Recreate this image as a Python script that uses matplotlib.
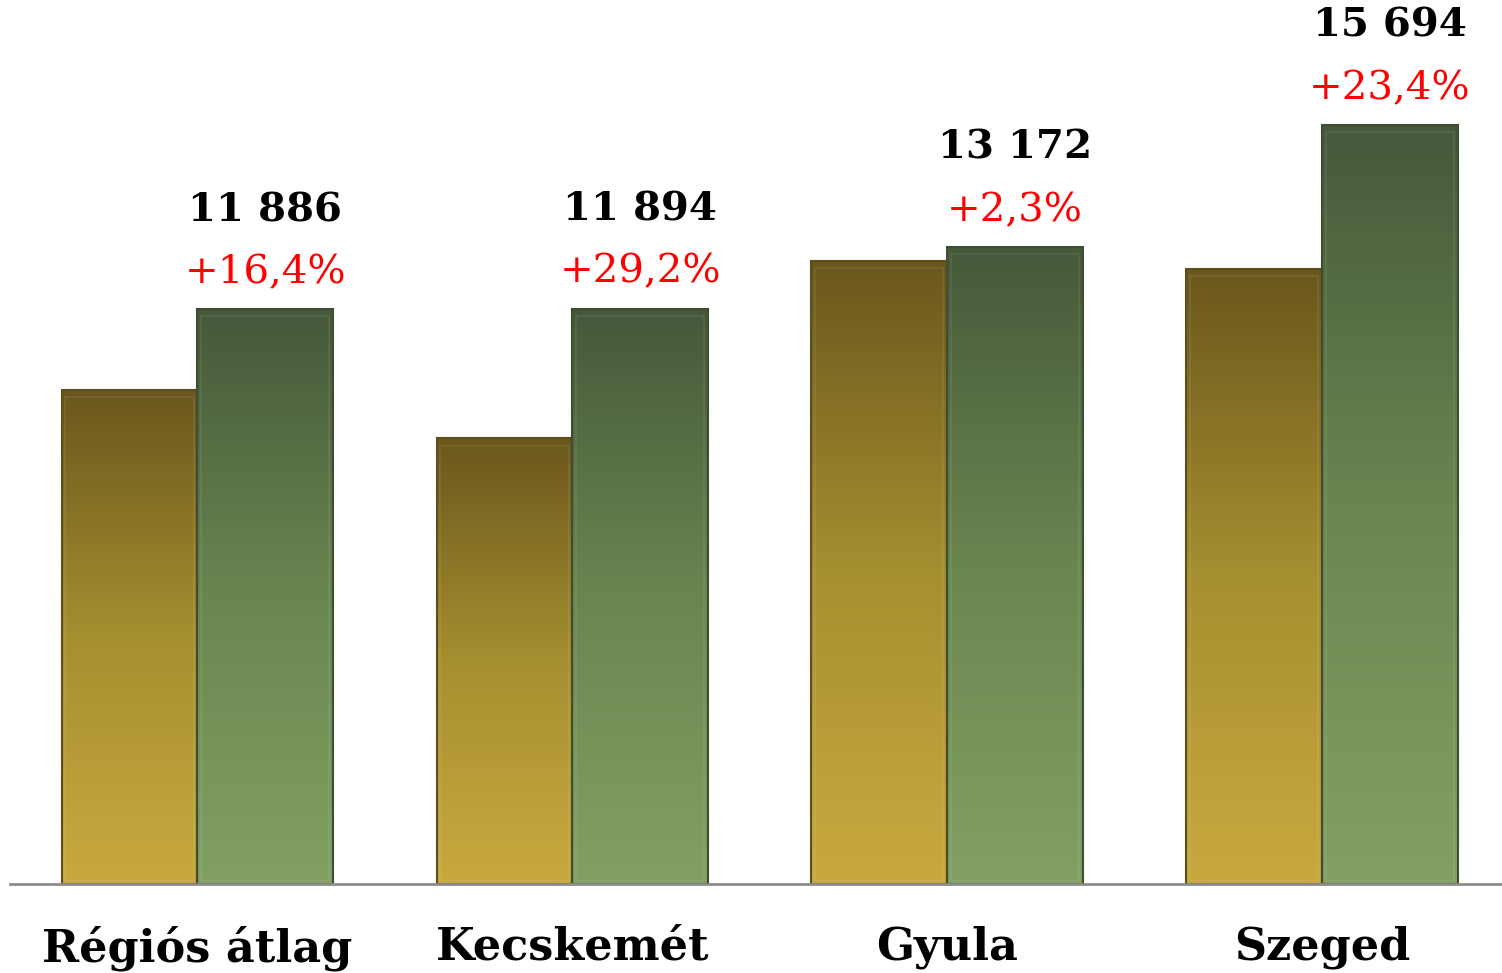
import numpy as np
import matplotlib.pyplot as plt
from matplotlib.colors import LinearSegmentedColormap

categories = ["Régiós átlag", "Kecskemét", "Gyula", "Szeged"]
prev_values = [10210, 9210, 12880, 12720]
curr_values = [11886, 11894, 13172, 15694]
value_labels = ["11 886", "11 894", "13 172", "15 694"]
pct_labels = ["+16,4%", "+29,2%", "+2,3%", "+23,4%"]

serif = ["DejaVu Serif"]

fig = plt.figure(figsize=(15.02, 9.73), dpi=100)
ax = fig.add_axes([10 / 1502, 89 / 973, 1492 / 1502, 884 / 973])

x = np.arange(len(categories))
w = 0.362

gold = LinearSegmentedColormap.from_list("gold", ["#c8a93e", "#a68f30", "#6a571c"])
green = LinearSegmentedColormap.from_list("green", ["#82a064", "#6a8650", "#46583a"])

ymax = 884 / 575 * 11886
ax.set_xlim(-0.5, 3.48)
ax.set_ylim(0, ymax)

grad = np.linspace(0, 1, 256).reshape(-1, 1)


def draw_bars(xpos, values, cmap, edge):
    bars = ax.bar(xpos, values, width=w, color="none", edgecolor=edge, linewidth=1.5, zorder=3)
    for b in bars:
        x0, y0 = b.get_x(), b.get_y()
        bw, bh = b.get_width(), b.get_height()
        im = ax.imshow(grad, cmap=cmap, aspect="auto", origin="lower",
                       extent=[x0, x0 + bw, y0, y0 + bh], zorder=2)
        im.set_clip_path(b)
        # soft bevel inset
        ax.add_patch(plt.Rectangle((x0 + 0.01, y0 + 70), bw - 0.02, bh - 220,
                                   fill=False, edgecolor=(1, 1, 1, 0.08), linewidth=1.2, zorder=3))
    return bars


draw_bars(x - w / 2, prev_values, gold, "#5e4f1a")
draw_bars(x + w / 2, curr_values, green, "#3e4e30")

for i in range(len(categories)):
    top = curr_values[i]
    ax.annotate(value_labels[i], (x[i] + w / 2, top), xytext=(0, 80), textcoords="offset pixels",
                ha="center", va="bottom", fontsize=29, fontweight="bold", family=serif, color="black")
    ax.annotate(pct_labels[i], (x[i] + w / 2, top), xytext=(0, 18), textcoords="offset pixels",
                ha="center", va="bottom", fontsize=29, family=serif, color="red")

ax.set_xticks(x)
ax.set_xticklabels(categories, fontsize=32, fontweight="bold", family=serif)
ax.tick_params(axis="x", length=0, pad=30)
ax.set_yticks([])
for s in ["top", "right", "left"]:
    ax.spines[s].set_visible(False)
ax.spines["bottom"].set_color("#8c8c8c")
ax.spines["bottom"].set_linewidth(2)
ax.spines["bottom"].set_zorder(4)

fig.savefig("out.png", dpi=100)
